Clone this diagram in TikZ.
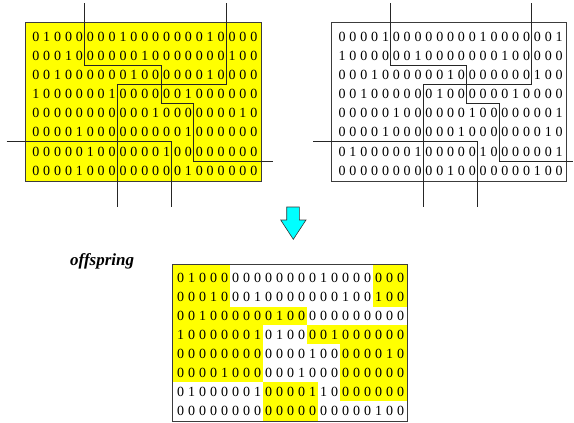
\documentclass[tikz,border=0pt]{standalone}
\usepackage{fontspec}
\setmainfont{Liberation Serif}

% one fixed-width cell per bit, so a row of bits lines up with the grid
\newlength\cellw
\def\digrow#1{\digrowstep#1\relax}
\def\digrowstep#1{\ifx#1\relax\else\makebox[\cellw]{#1}\expandafter\digrowstep\fi}

\definecolor{geneyellow}{HTML}{FFFF00}
\definecolor{arrowcyan}{HTML}{00FFFF}
\definecolor{framegray}{HTML}{3C3C3C}

\tikzset{
  bits/.style={anchor=west, inner sep=0pt, font=\fontsize{14}{14}\selectfont},
  cutline/.style={draw=black!85, line width=0.9pt},
  matframe/.style={draw=framegray, line width=0.9pt},
  gene/.style={fill=geneyellow, draw=none},
  downarrow/.style={draw=black!80, line width=0.6pt, fill=arrowcyan, line join=miter},
  tag/.style={anchor=base west, inner sep=0pt, font=\fontsize{17}{17}\selectfont\bfseries\itshape}
}

\begin{document}
\begin{tikzpicture}[x=1pt, y=-1pt]
\useasboundingbox (0,0) rectangle (574,423);

% ---------- first parent (yellow) ----------
\setlength\cellw{10.9pt}
\begin{scope}[shift={(30.2,27.1)}, x=10.9pt, y=-19.14pt]
  \path[matframe, fill=geneyellow] (-0.41,-0.23) rectangle (21.17,8.08);
  \foreach \r/\b in {1/010000001000000010000,
                     2/000100000010000000100,
                     3/001000000100000010000,
                     4/100000010000001000000,
                     5/000000000001000000010,
                     6/000010000000001000000,
                     7/000001000000100000000,
                     8/000010000000001000000}
    \node[bits] (pa\r) at (0,\r-0.5) {\expandafter\digrow\expandafter{\b}};
  \draw[cutline] (5,-1.245) -- (5,2) -- (12,2) -- (12,4) -- (15,4) -- (15,7) -- (22.28,7);
  \draw[cutline] (18,-1.245) -- (18,3) -- (8,3) -- (8,9.38);
  \draw[cutline] (-2.16,6) -- (13,6) -- (13,9.38);
\end{scope}

% ---------- second parent (white) ----------
\setlength\cellw{10.85pt}
\begin{scope}[shift={(336.5,27.1)}, x=10.85pt, y=-19.14pt]
  \path[matframe, fill=white] (-0.44,-0.23) rectangle (21.22,8.08);
  \foreach \r/\b in {1/000010000000010000001,
                     2/100000010000000100000,
                     3/000100000010000000100,
                     4/001000000100000010000,
                     5/000001000000100000001,
                     6/000010000001000000010,
                     7/010000010000010000001,
                     8/000000000010000000100}
    \node[bits] (pb\r) at (0,\r-0.5) {\expandafter\digrow\expandafter{\b}};
  \draw[cutline] (5,-1.245) -- (5,2) -- (12,2) -- (12,4) -- (15,4) -- (15,7) -- (21.82,7);
  \draw[cutline] (18,-1.245) -- (18,3) -- (8,3) -- (8,9.38);
  \draw[cutline] (-2.14,6) -- (13,6) -- (13,9.38);
\end{scope}

% ---------- crossover arrow ----------
\path[downarrow] (286.7,207) -- (299.3,207) -- (299.3,220) -- (306,220)
  -- (293.3,239.3) -- (280.7,220) -- (286.7,220) -- cycle;

\node[tag] (offtag) at (70,265) {offspring};

% ---------- offspring ----------
\setlength\cellw{11pt}
\begin{scope}[shift={(175,268.7)}, x=11pt, y=-18.9pt]
  \path[gene] (-0.245,-0.233) rectangle (5,2);
  \path[gene] (18,-0.233) rectangle (21.09,2);
  \path[gene] (-0.245,2) rectangle (12,3);
  \path[gene] (-0.245,3) rectangle (8,6);
  \path[gene] (12,3) rectangle (21.09,4);
  \path[gene] (15,4) rectangle (21.09,7);
  \path[gene] (8,6) rectangle (13,8.08);
  \path[matframe] (-0.245,-0.233) rectangle (21.09,8.08);
  \foreach \r/\b in {1/010000000000010000000,
                     2/000100010000000100100,
                     3/001000000100000000000,
                     4/100000010100001000000,
                     5/000000000000100000010,
                     6/000010000001000000000,
                     7/010000010000110000000,
                     8/000000000000000000100}
    \node[bits] (po\r) at (0,\r-0.5) {\expandafter\digrow\expandafter{\b}};
\end{scope}
\end{tikzpicture}
\end{document}
